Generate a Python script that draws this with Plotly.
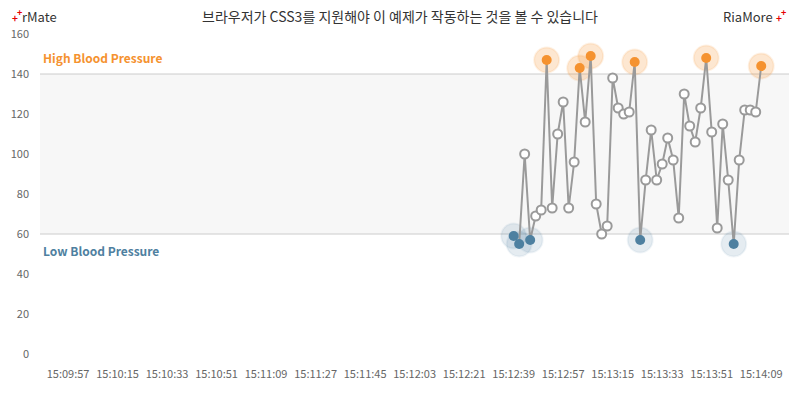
import plotly.graph_objects as go

# ---- data ----
times = [
    "15:12:39", "15:12:41", "15:12:43", "15:12:45", "15:12:47", "15:12:49",
    "15:12:51", "15:12:53", "15:12:55", "15:12:57", "15:12:59", "15:13:01",
    "15:13:03", "15:13:05", "15:13:07", "15:13:09", "15:13:11", "15:13:13",
    "15:13:15", "15:13:17", "15:13:19", "15:13:21", "15:13:23", "15:13:25",
    "15:13:27", "15:13:29", "15:13:31", "15:13:33", "15:13:35", "15:13:37",
    "15:13:39", "15:13:41", "15:13:43", "15:13:45", "15:13:47", "15:13:49",
    "15:13:51", "15:13:53", "15:13:55", "15:13:57", "15:13:59", "15:14:01",
    "15:14:03", "15:14:05", "15:14:07", "15:14:09",
]
pressure = [
    59, 55, 100, 57, 69, 72, 147, 73, 110, 126, 73, 96, 143, 116, 149, 75,
    60, 64, 138, 123, 120, 121, 146, 57, 87, 112, 87, 95, 108, 97, 68, 130,
    114, 106, 123, 148, 111, 63, 115, 87, 55, 97, 122, 122, 121, 144,
]
tick_labels = [
    "15:09:57", "15:10:15", "15:10:33", "15:10:51", "15:11:09", "15:11:27",
    "15:11:45", "15:12:03", "15:12:21", "15:12:39", "15:12:57", "15:13:15",
    "15:13:33", "15:13:51", "15:14:09",
]
high_limit = 140
low_limit = 60
y_ticks = [0, 20, 40, 60, 80, 100, 120, 140, 160]

DAY = "2024-01-01 "
xs = [DAY + t for t in times]
tick_x = [DAY + t for t in tick_labels]

ORANGE = "#f5922f"
BLUE = "#4e80a0"
GRAY = "#9a9a9a"
RED = "#e60000"
FONT = "Noto Sans CJK KR, Noto Sans, sans-serif"

hi_x = [x for x, v in zip(xs, pressure) if v > high_limit]
hi_y = [v for v in pressure if v > high_limit]
lo_x = [x for x, v in zip(xs, pressure) if v < low_limit]
lo_y = [v for v in pressure if v < low_limit]
mid_x = [x for x, v in zip(xs, pressure) if low_limit <= v <= high_limit]
mid_y = [v for v in pressure if low_limit <= v <= high_limit]

fig = go.Figure()

# halos
fig.add_trace(go.Scatter(x=hi_x, y=hi_y, mode="markers",
                         marker=dict(size=25, color="rgba(245,146,47,0.22)",
                                     line=dict(color="rgba(245,146,47,0.12)", width=2)),
                         hoverinfo="skip", showlegend=False))
fig.add_trace(go.Scatter(x=lo_x, y=lo_y, mode="markers",
                         marker=dict(size=25, color="rgba(78,128,160,0.15)",
                                     line=dict(color="rgba(78,128,160,0.08)", width=2)),
                         hoverinfo="skip", showlegend=False))
# line
fig.add_trace(go.Scatter(x=xs, y=pressure, mode="lines",
                         line=dict(color=GRAY, width=2), showlegend=False))
# normal points
fig.add_trace(go.Scatter(x=mid_x, y=mid_y, mode="markers",
                         marker=dict(size=9, color="white", line=dict(color=GRAY, width=2)),
                         showlegend=False))
fig.add_trace(go.Scatter(x=hi_x, y=hi_y, mode="markers",
                         marker=dict(size=10, color=ORANGE, line=dict(width=0)),
                         showlegend=False))
fig.add_trace(go.Scatter(x=lo_x, y=lo_y, mode="markers",
                         marker=dict(size=10, color=BLUE, line=dict(width=0)),
                         showlegend=False))

# normal band
fig.add_shape(type="rect", xref="paper", yref="y", x0=0, x1=1, y0=low_limit, y1=high_limit,
              fillcolor="#f7f7f7", line=dict(width=0), layer="below")
for yv in (high_limit, low_limit):
    fig.add_shape(type="line", xref="paper", yref="y", x0=0, x1=1, y0=yv, y1=yv,
                  line=dict(color="#cccccc", width=1), layer="below")

fig.add_annotation(xref="paper", yref="y", x=0, y=148.5, xanchor="left", yanchor="middle",
                   text="<b>High Blood Pressure</b>", showarrow=False, xshift=1,
                   font=dict(family=FONT, size=12, color=ORANGE))
fig.add_annotation(xref="paper", yref="y", x=0, y=52, xanchor="left", yanchor="middle",
                   text="<b>Low Blood Pressure</b>", showarrow=False, xshift=1,
                   font=dict(family=FONT, size=12, color=BLUE))

# logos (pixel placement via paper coords: plot area x 40..789, y 34..354)
def px(xp):
    return (xp - 40) / 749


def py(yp):
    return (354 - yp) / 320


fig.add_annotation(xref="paper", yref="paper", x=px(20), y=py(17), xanchor="left",
                   yanchor="middle", showarrow=False, text="rMate",
                   font=dict(family=FONT, size=13, color="#333333"))
fig.add_annotation(xref="paper", yref="paper", x=px(14.5), y=py(18), xanchor="center",
                   yanchor="middle", showarrow=False, text="<b>+</b>",
                   font=dict(family=FONT, size=10, color=RED))
fig.add_annotation(xref="paper", yref="paper", x=px(19), y=py(13), xanchor="center",
                   yanchor="middle", showarrow=False, text="<b>+</b>",
                   font=dict(family=FONT, size=9, color=RED))
fig.add_annotation(xref="paper", yref="paper", x=px(775), y=py(17), xanchor="right",
                   yanchor="middle", showarrow=False, text="RiaMore",
                   font=dict(family=FONT, size=13, color="#333333"))
fig.add_annotation(xref="paper", yref="paper", x=px(778.5), y=py(18), xanchor="center",
                   yanchor="middle", showarrow=False, text="<b>+</b>",
                   font=dict(family=FONT, size=10, color=RED))
fig.add_annotation(xref="paper", yref="paper", x=px(783), y=py(13), xanchor="center",
                   yanchor="middle", showarrow=False, text="<b>+</b>",
                   font=dict(family=FONT, size=9, color=RED))

fig.update_layout(
    width=800, height=400,
    margin=dict(l=40, r=11, t=34, b=46),
    paper_bgcolor="white", plot_bgcolor="white",
    title=dict(text="브라우저가 CSS3를 지원해야 이 예제가 작동하는 것을 볼 수 있습니다",
               x=0.5, xanchor="center", y=1 - 17 / 400, yanchor="middle",
               font=dict(family=FONT, size=14, color="#333333")),
    font=dict(family=FONT),
    xaxis=dict(type="date", range=[DAY + "15:09:46.8", DAY + "15:14:19.1"],
               tickvals=tick_x, ticktext=tick_labels, showgrid=False, zeroline=False,
               showline=False, ticks="", tickfont=dict(size=11, color="#666666"),
               ticklabelstandoff=12),
    yaxis=dict(range=[0, 160], tickvals=y_ticks, showgrid=False, zeroline=False,
               showline=False, ticks="", tickfont=dict(size=11, color="#666666"),
               ticklabelstandoff=10),
)

fig.write_html("out.html", config={"displayModeBar": False},
               post_script="document.body.style.margin='0px';")
